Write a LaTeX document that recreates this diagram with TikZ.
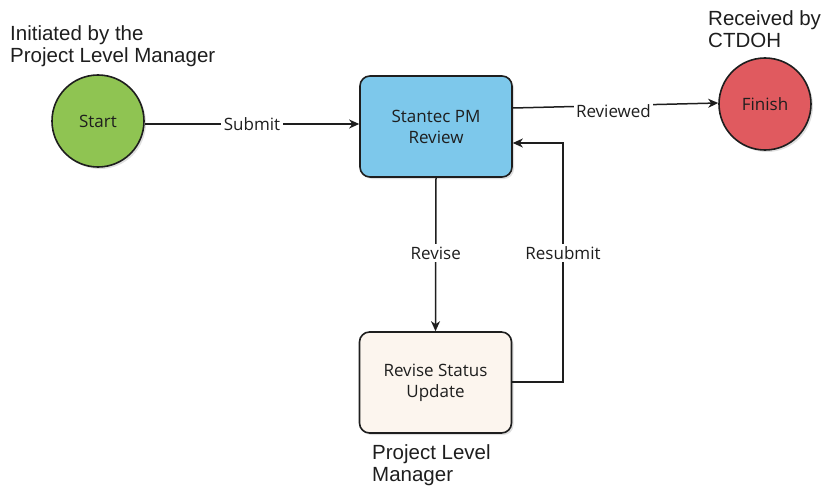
\documentclass[tikz,border=0pt]{standalone}
\usepackage{fontspec}
\setmainfont{Liberation Sans}
\newfontfamily\nodefont{Open Sans}
\usetikzlibrary{arrows.meta,shadows}
\definecolor{startgreen}{RGB}{143,196,82}
\definecolor{pmblue}{RGB}{125,200,235}
\definecolor{finred}{RGB}{224,90,95}
\definecolor{revcream}{RGB}{252,245,238}
\definecolor{inkc}{RGB}{30,30,30}
\tikzset{
  x=1pt,y=-1pt,
  shp/.style={draw=inkc,line width=1.6pt,font=\nodefont\fontsize{17}{21}\selectfont,text=inkc,align=center,
    drop shadow={shadow xshift=2pt,shadow yshift=-2pt,opacity=0.25}},
  circ/.style={shp,circle,minimum size=92pt,inner sep=0pt},
  boxs/.style={shp,rectangle,rounded corners=10pt,minimum width=152pt,minimum height=101pt,inner sep=0pt},
  conn/.style={draw=inkc,line width=1.5pt,-{Stealth[length=10pt,width=9pt,inset=3pt]}},
  lbl/.style={fill=white,inner sep=2.5pt,font=\nodefont\fontsize{17}{21}\selectfont,text=inkc},
  captxt/.style={font=\fontsize{20.5}{22}\selectfont,text=inkc,align=left,anchor=north west,inner sep=0pt}
}
\begin{document}
\begin{tikzpicture}
\useasboundingbox (0,0) rectangle (825,487);
\node[circ,fill=startgreen] (start) at (98,121) {Start};
\node[boxs,fill=pmblue] (pm) at (436,126.5) {Stantec PM\\Review};
\node[circ,fill=finred] (fin) at (765,104) {Finish};
\node[boxs,fill=revcream] (rev) at (435.5,382.5) {Revise Status\\Update};
\coordinate (rsA) at (563,382);
\coordinate (rsB) at (563,143);
\draw[conn] (start.east |- 0,124) -- node[lbl,pos=0.5]{Submit} (pm.west |- 0,124);
\draw[conn] (pm.east |- 0,108) -- node[lbl,pos=0.49,yshift=-6pt]{Reviewed} (fin.west |- 0,103);
\draw[conn] (pm.south) -- node[lbl,pos=0.49]{Revise} (rev.north);
\draw[conn] (rev.east |- rsA) -- (rsA) -- node[lbl,pos=0.54]{Resubmit} (rsB) -- (pm.east |- rsB);
\node[captxt] (c1) at (10,25) {Initiated by the\\Project Level Manager};
\node[captxt] (c2) at (708,10) {Received by\\CTDOH};
\node[captxt] (c3) at (372,444) {Project Level\\Manager};
\end{tikzpicture}
\end{document}
